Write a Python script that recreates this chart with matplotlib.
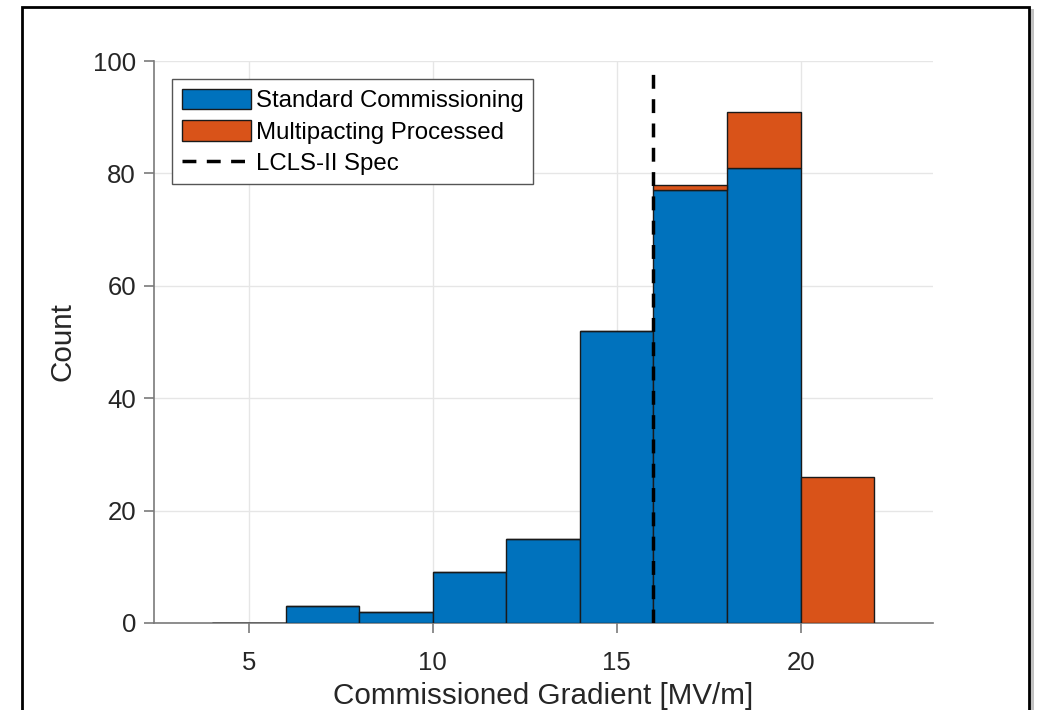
import matplotlib.pyplot as plt
from matplotlib.patches import Rectangle

plt.rcParams['font.family'] = ['Liberation Sans', 'DejaVu Sans']

bin_edges = [4, 6, 8, 10, 12, 14, 16, 18, 20]
standard = [0, 3, 2, 9, 15, 52, 77, 81, 0]
multipacting = [0, 0, 0, 0, 0, 0, 1, 10, 26]
spec = 16
spec_top = 98.5

blue = '#0072BD'
orange = '#D95319'
axcol = '#7a7a7a'
txtcol = '#262626'

fig = plt.figure(figsize=(10.41, 7.10), dpi=100)
ax = fig.add_axes([154/1041, 1-623/710, (933-154)/1041, (623-61)/710])

b1 = ax.bar(bin_edges, standard, width=2, align='edge', color=blue, edgecolor='#1a1a1a', lw=1,
            label='Standard Commissioning', zorder=3)
b2 = ax.bar(bin_edges, multipacting, width=2, align='edge', bottom=standard, color=orange,
            edgecolor='#1a1a1a', lw=1, label='Multipacting Processed', zorder=3)
ln, = ax.plot([spec, spec], [0, spec_top], '--', color='black', lw=2.5, dashes=(4, 3),
              label='LCLS-II Spec', zorder=4)

ax.set_xlim(2.42, 23.6)
ax.set_ylim(0, 100)
ax.set_xticks([5, 10, 15, 20])
ax.set_yticks([0, 20, 40, 60, 80, 100])
ax.grid(True, color='#e6e6e6', lw=1, zorder=0)
ax.set_axisbelow(True)
for s in ['top', 'right']:
    ax.spines[s].set_visible(False)
for s in ['left', 'bottom']:
    ax.spines[s].set_color(axcol)
    ax.spines[s].set_linewidth(1.2)
ax.tick_params(direction='out', length=7, width=1.2, color=axcol, labelsize=18.5,
               labelcolor=txtcol)
ax.tick_params(axis='x', pad=13)
ax.tick_params(axis='y', pad=6)
ax.set_xlabel('Commissioned Gradient [MV/m]', fontsize=21.3, color=txtcol, labelpad=5)
ax.set_ylabel('Count', fontsize=21.3, color=txtcol, labelpad=12)

leg = ax.legend([b1, b2, ln], ['Standard Commissioning', 'Multipacting Processed', 'LCLS-II Spec'],
                loc='upper left', bbox_to_anchor=(0.023, 0.968), fontsize=17.3,
                frameon=True, fancybox=False, edgecolor='#555555', framealpha=1,
                handlelength=2.9, handleheight=0.95, borderpad=0.4, labelspacing=0.32,
                handletextpad=0.2, borderaxespad=0)
leg.get_frame().set_linewidth(1)

# framed border with a shadow
fig.patches.append(Rectangle((26/1041, -0.05), (1034-26)/1041, 1.0 - 6/710 + 0.05 - 0.004,
                             transform=fig.transFigure, fill=True, facecolor='#9a9a9a',
                             edgecolor='none', zorder=-2, alpha=0.6))
fig.patches.append(Rectangle((22/1041, -0.05), (1029-22)/1041, 1.0 - 7/710 + 0.05,
                             transform=fig.transFigure, facecolor='white',
                             edgecolor='black', lw=2, zorder=-1))

fig.savefig('out.png', dpi=100)
